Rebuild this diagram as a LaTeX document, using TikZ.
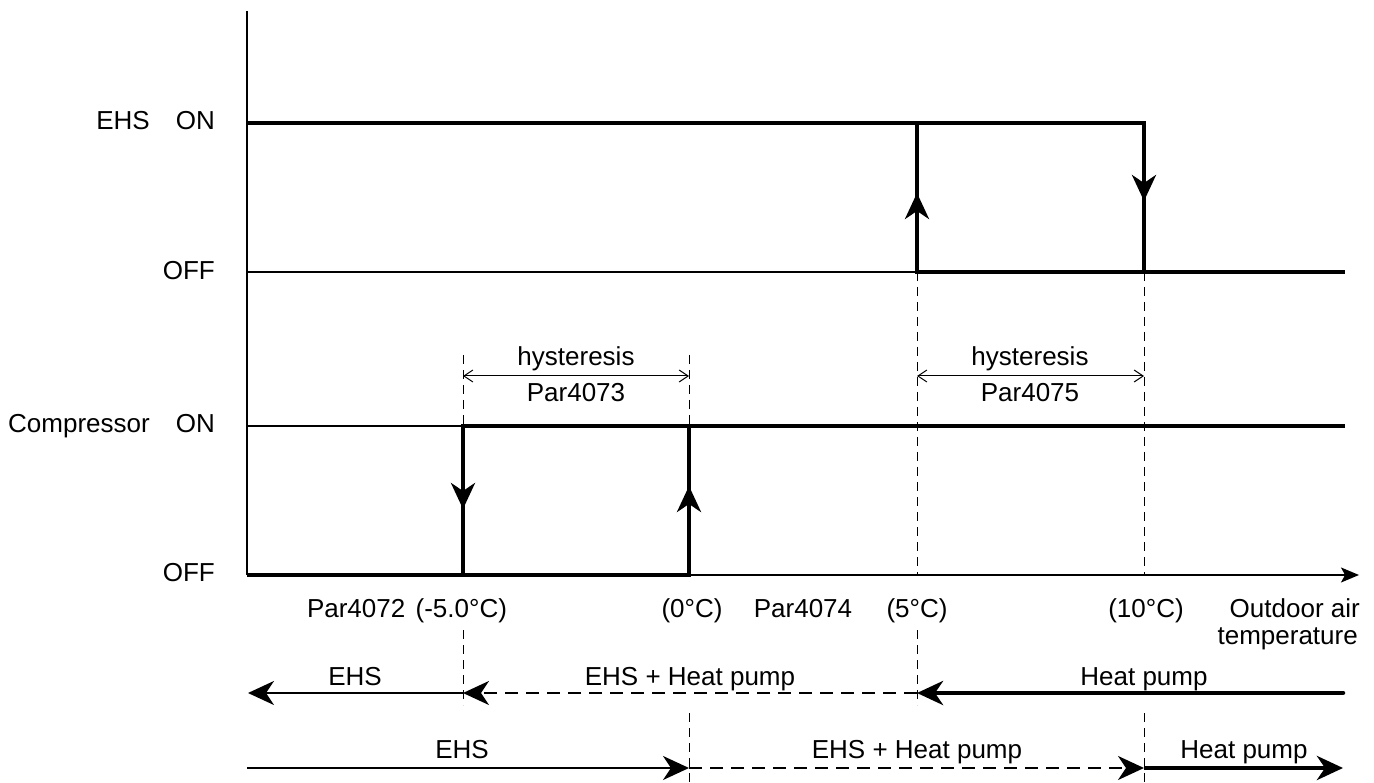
\documentclass[tikz,border=0pt]{standalone}
\usepackage{fontspec}
\setmainfont{Liberation Sans}
\usetikzlibrary{arrows.meta}
\begin{document}
\begin{tikzpicture}[x=1pt,y=-1pt,
  font=\fontsize{26}{30}\selectfont,
  heavy/.style={line width=4pt},
  light/.style={line width=1.4pt},
  guide/.style={line width=1pt, dash pattern=on 9pt off 6pt},
  midline/.style={line width=2.6pt},
  dashline/.style={line width=2.6pt, dash pattern=on 13pt off 8pt},
  bigtip/.style={-{Stealth[length=26pt,width=24pt,inset=8pt]}},
  vtip/.style={-{Stealth[length=26pt,width=24pt,inset=8pt]}},
  axtip/.style={-{Stealth[length=18pt,width=15pt,inset=4pt]}},
  dimtip/.style={{Straight Barb[length=9pt,width=12pt]}-{Straight Barb[length=9pt,width=12pt]}},
  lbl/.style={anchor=base, inner sep=0pt},
  lblr/.style={anchor=base east, inner sep=0pt}]
\useasboundingbox (0,0) rectangle (1374,783);

% key coordinates
\coordinate (O) at (247,575);
\coordinate (top) at (247,11);
\coordinate (xend) at (1359,575);
\coordinate (eon0) at (247,123);
\coordinate (eoff0) at (247,272);
\coordinate (con0) at (247,426);

% axes
\draw[light] (top) -- (O);
\draw[light, axtip] (O) -- (xend);
\draw[light] (eoff0) -- (917,272);
\draw[light] (con0) -- (463,426);

% guide lines
\draw[guide] (463,355) -- (463,426);
\draw[guide] (689,355) -- (689,426);
\draw[guide] (917,272) -- (917,575);
\draw[guide] (1144,272) -- (1144,575);
\draw[guide] (463,630) -- (463,705);
\draw[guide] (917,630) -- (917,705);
\draw[guide] (689,713) -- (689,783);
\draw[guide] (1144,713) -- (1144,783);

% EHS curve
\draw[heavy, line join=miter] (eon0) -- (1144,123) -- (1144,272) -- (1345,272);
\draw[heavy, line join=miter] (917,123) -- (917,272) -- (1144,272);
\draw[heavy, vtip] (1144,150) -- (1144,201);
\draw[heavy, vtip] (917,250) -- (917,193);

% compressor curve
\draw[heavy, line join=miter] (1345,426) -- (463,426) -- (463,575) -- (O);
\draw[heavy, line join=miter] (463,575) -- (689,575) -- (689,426);
\draw[heavy, vtip] (463,460) -- (463,509);
\draw[heavy, vtip] (689,540) -- (689,486);

% hysteresis dims
\draw[line width=1pt, dimtip] (463,376) -- (689,376);
\node[lbl] (h1) at (576,366) {hysteresis};
\node[lbl] (p1) at (576,402) {Par4073};
\draw[line width=1pt, dimtip] (917,376) -- (1144,376);
\node[lbl] (h2) at (1030,366) {hysteresis};
\node[lbl] (p2) at (1030,402) {Par4075};

% left labels
\node[lblr] (l1) at (215,130) {EHS\quad ON};
\node[lblr] (l2) at (215,280) {OFF};
\node[lblr] (l3) at (215,433) {Compressor\quad ON};
\node[lblr] (l4) at (215,581) {OFF};

% axis labels
\node[lbl] (t1) at (407,617) {Par4072\hspace{0.4em}(-5.0°C)};
\node[lbl] (t2) at (692,617) {(0°C)};
\node[lbl] (t3) at (803,617) {Par4074};
\node[lbl] (t4) at (917,617) {(5°C)};
\node[lbl] (t5) at (1146,617) {(10°C)};
\node[lblr] (t6) at (1360,617) {Outdoor air};
\node[lblr] (t7) at (1358,644) {temperature};

% mode row 1 (falling temperature)
\draw[midline, bigtip] (463,693) -- (248,693);
\draw[dashline, bigtip] (917,693) -- (463,693);
\draw[line width=4.5pt, line cap=round, bigtip] (1343,693) -- (917,693);
\node[lbl] (r1a) at (355,685) {EHS};
\node[lbl] (r1b) at (690,685) {EHS + Heat pump};
\node[lbl] (r1c) at (1144,685) {Heat pump};

% mode row 2 (rising temperature)
\draw[midline, bigtip] (247,768) -- (689,768);
\draw[dashline, bigtip] (689,768) -- (1144,768);
\draw[line width=4.5pt, bigtip] (1144,768) -- (1343,768);
\node[lbl] (r2a) at (462,758) {EHS};
\node[lbl] (r2b) at (917,758) {EHS + Heat pump};
\node[lbl] (r2c) at (1244,758) {Heat pump};
\end{tikzpicture}
\end{document}
